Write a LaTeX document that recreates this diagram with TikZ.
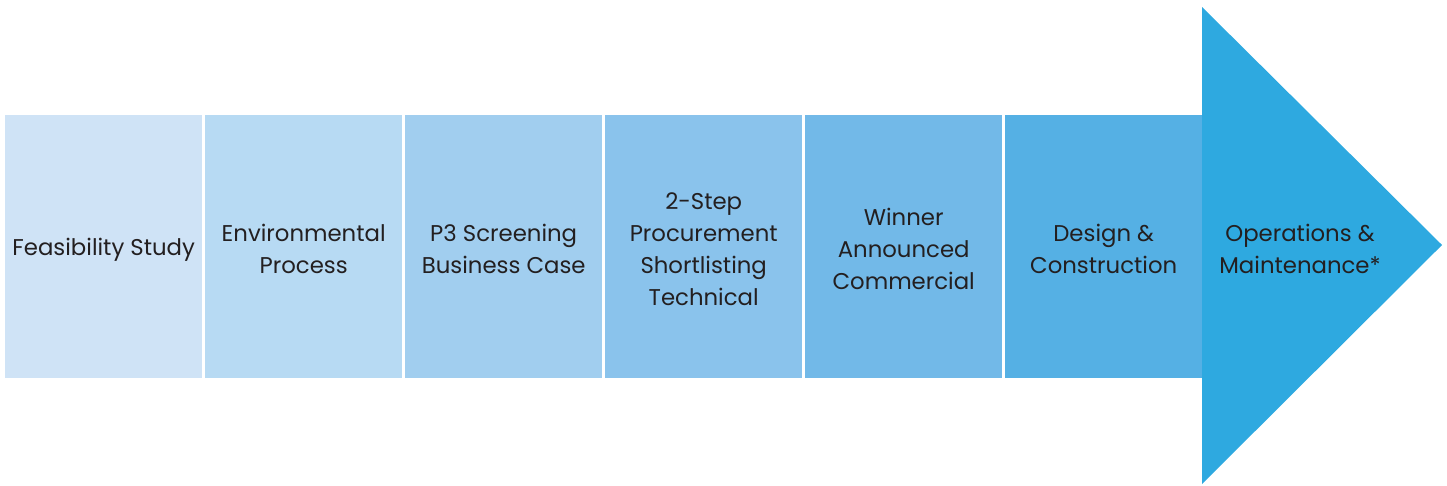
\documentclass[tikz,border=0pt]{standalone}
\usepackage{fontspec}
\setmainfont{Poppins}
\usetikzlibrary{positioning}
\definecolor{stageA}{HTML}{CFE3F6}
\definecolor{stageB}{HTML}{B7DAF3}
\definecolor{stageC}{HTML}{A1CEEF}
\definecolor{stageD}{HTML}{8AC3EC}
\definecolor{stageE}{HTML}{72B9E8}
\definecolor{stageF}{HTML}{55B0E4}
\definecolor{stageG}{HTML}{2EA9E0}
\definecolor{stagetext}{HTML}{231F20}
\tikzset{
    stagebox/.style={rectangle,fill=#1,minimum width=197pt,minimum height=263pt,inner sep=0pt},
    stagelabel/.style={align=center,text=stagetext,font=\fontsize{22.8}{32}\selectfont}
}

\begin{document}
\begin{tikzpicture}[x=1pt,y=-1pt,node distance=2.6pt]
            \useasboundingbox (0,0) rectangle (1447,485);
            % the six stage boxes, left to right
            \node[stagebox=stageA,anchor=north west] (feas) at (5,115) {};
            \node[stagebox=stageB,right=of feas] (env) {};
            \node[stagebox=stageC,right=of env] (screen) {};
            \node[stagebox=stageD,right=of screen] (proc) {};
            \node[stagebox=stageE,right=of proc] (win) {};
            \node[stagebox=stageF,right=of win] (build) {};
            % arrow head carrying the last stage
            \coordinate (tip) at (1442,245);
            \fill[stageG] (1202,7) -- (tip) -- (1202,484) -- cycle;
            % labels, nudged down a little
            \node[stagelabel,below=3pt of feas.center,anchor=center] (feastext) {Feasibility Study};
            \node[stagelabel,below=2.5pt of env.center,anchor=center] (envtext) {Environmental\\Process};
            \node[stagelabel,below=2.5pt of screen.center,anchor=center] (screentext) {P3 Screening\\Business Case};
            \node[stagelabel,below=3pt of proc.center,anchor=center] (proctext) {2-Step\\Procurement\\Shortlisting\\Technical};
            \node[stagelabel,below=2.5pt of win.center,anchor=center] (wintext) {Winner\\Announced\\Commercial};
            \node[stagelabel,below=2.5pt of build.center,anchor=center] (buildtext) {Design \&\\Construction};
            \node[stagelabel] (opstext) at (1300,249) {Operations \&\\Maintenance*};
        \end{tikzpicture}
\end{document}
